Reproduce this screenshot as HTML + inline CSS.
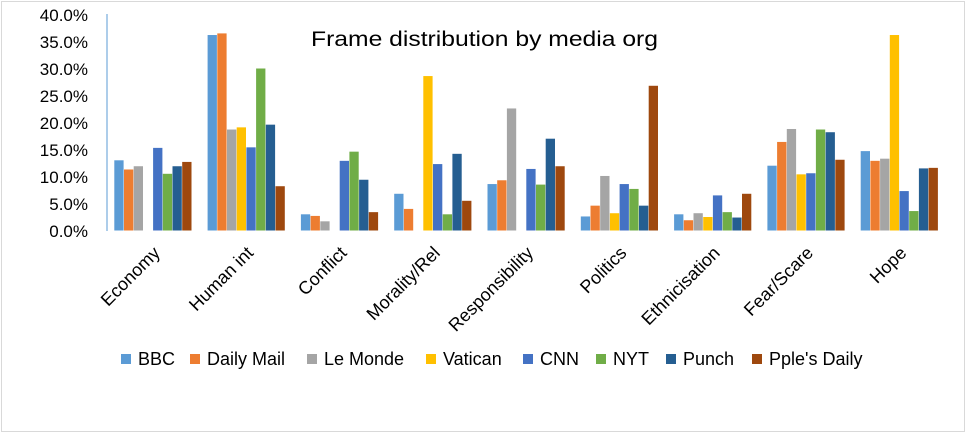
<!DOCTYPE html>
<html><head><meta charset="utf-8"><style>
html,body{margin:0;padding:0;background:#fff;}
svg{display:block;font-family:"Liberation Sans",sans-serif;}
</style></head><body>
<svg width="966" height="439" viewBox="0 0 966 439" xmlns="http://www.w3.org/2000/svg">
<rect x="0" y="0" width="966" height="439" fill="#fff"/>
<rect x="1.5" y="1.5" width="963" height="430" fill="none" stroke="#d9d9d9" stroke-width="1"/>
<text x="311" y="46" font-size="21" fill="#000" textLength="347" lengthAdjust="spacingAndGlyphs">Frame distribution by media org</text>
<g font-size="17" fill="#000" text-anchor="end">
<text x="88" y="21">40.0%</text>
<text x="88" y="48">35.0%</text>
<text x="88" y="75">30.0%</text>
<text x="88" y="102">25.0%</text>
<text x="88" y="129">20.0%</text>
<text x="88" y="156">15.0%</text>
<text x="88" y="183">10.0%</text>
<text x="88" y="210">5.0%</text>
<text x="88" y="237">0.0%</text>
</g>
<line x1="107" y1="14" x2="107" y2="231" stroke="#5B9BD5" stroke-width="1"/>
<g id="bars"></g>
<g font-size="18" fill="#000" text-anchor="end" id="labels"></g>
<g font-size="18" fill="#000">
<rect x="121" y="354" width="10" height="10" fill="#5B9BD5"/><text x="138" y="365">BBC</text>
<rect x="190" y="354" width="10" height="10" fill="#ED7D31"/><text x="207" y="365">Daily Mail</text>
<rect x="307" y="354" width="10" height="10" fill="#A5A5A5"/><text x="324" y="365">Le Monde</text>
<rect x="426" y="354" width="10" height="10" fill="#FFC000"/><text x="443" y="365">Vatican</text>
<rect x="523" y="354" width="10" height="10" fill="#4472C4"/><text x="540" y="365">CNN</text>
<rect x="596" y="354" width="10" height="10" fill="#70AD47"/><text x="613" y="365">NYT</text>
<rect x="666" y="354" width="10" height="10" fill="#255E91"/><text x="683" y="365">Punch</text>
<rect x="752" y="354" width="10" height="10" fill="#9E480E"/><text x="769" y="365">Pple's Daily</text>
</g>
<script>
var d=[[13.0,11.3,11.9,0,15.3,10.5,11.9,12.7],[36.2,36.5,18.7,19.1,15.4,30.0,19.6,8.2],[3.0,2.7,1.7,0,12.9,14.6,9.4,3.4],[6.8,4.0,0,28.6,12.3,3.0,14.2,5.5],[8.6,9.3,22.6,0,11.4,8.5,17.0,11.9],[2.6,4.6,10.1,3.2,8.6,7.7,4.6,26.8],[3.0,1.9,3.2,2.5,6.5,3.4,2.4,6.8],[12.0,16.4,18.8,10.4,10.6,18.7,18.2,13.1],[14.7,12.9,13.3,36.2,7.3,3.6,11.5,11.6]];
var c=["#5B9BD5","#ED7D31","#A5A5A5","#FFC000","#4472C4","#70AD47","#255E91","#9E480E"];
var L=["Economy","Human int","Conflict","Morality/Rel","Responsibility","Politics","Ethnicisation","Fear/Scare","Hope"];
var ns="http://www.w3.org/2000/svg",g=document.getElementById("bars"),lg=document.getElementById("labels");
var x0=106.5,cw=93.3,bw=9.7,y0=230.5,k=5.4;
for(var i=0;i<9;i++){for(var j=0;j<8;j++){if(!d[i][j])continue;var h=d[i][j]*k;var r=document.createElementNS(ns,"rect");
r.setAttribute("x",x0+i*cw+7.8+j*bw);r.setAttribute("y",y0-h);r.setAttribute("width",bw-0.4);r.setAttribute("height",h);r.setAttribute("fill",c[j]);g.appendChild(r);}
var cx=x0+i*cw+cw/2+8,cy=254;var t=document.createElementNS(ns,"text");t.setAttribute("x",cx);t.setAttribute("y",cy);
t.setAttribute("transform","rotate(-45 "+cx+" "+cy+")");t.textContent=L[i];lg.appendChild(t);}
</script>
</svg>
</body></html>
